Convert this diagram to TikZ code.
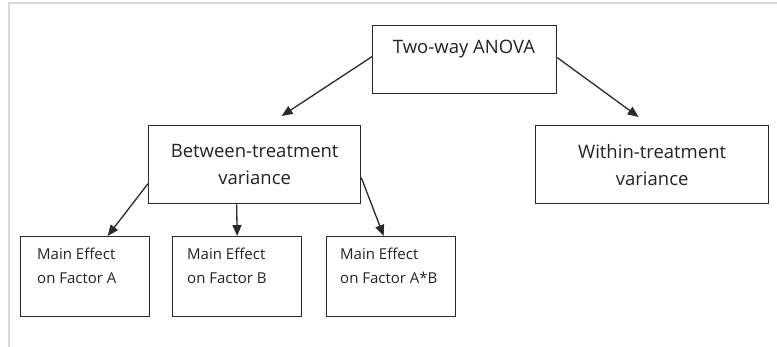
\documentclass[tikz,border=0pt]{standalone}
\usepackage{fontspec}
\setmainfont{Open Sans}
\usetikzlibrary{arrows.meta}
\definecolor{frame}{HTML}{D9D9D9}
\definecolor{ink}{HTML}{222222}
\definecolor{edge}{HTML}{2A2A2A}
\tikzset{
  box/.style={draw=edge, line width=1.3pt, rectangle, inner sep=0pt, anchor=north west},
  bigtext/.style={text=ink, font=\fontsize{18.5}{27}\selectfont, align=center},
  smalltext/.style={text=ink, font=\fontsize{15}{24}\selectfont, align=left, inner sep=0pt, anchor=north west},
  conn/.style={draw=edge, line width=1.3pt, -{Triangle[length=11pt,width=9pt]}}
}
\begin{document}
\begin{tikzpicture}[x=1pt,y=-1pt]
\useasboundingbox (0,0) rectangle (777,347);
\draw[frame, line width=1.2pt] (9,347) -- (9,3) -- (777,3);
% boxes
\node[box, minimum width=184pt, minimum height=68pt] (two) at (372,25) {};
\node[text=ink, font=\fontsize{18.5}{27}\selectfont, anchor=base] (twotext) at (464,54) {Two-way ANOVA};
\node[box, bigtext, minimum width=212pt, minimum height=78pt] (between) at (148,125) {Between-treatment\\variance};
\node[box, bigtext, minimum width=233pt, minimum height=78pt] (within) at (535,125) {Within-treatment\\variance};
\node[box, minimum width=129pt, minimum height=80pt] (fa) at (20,236) {};
\node[box, minimum width=129pt, minimum height=80pt] (fb) at (172,236) {};
\node[box, minimum width=129pt, minimum height=80pt] (fab) at (326,236) {};
\node[smalltext] (fatext) at (37,248) {Main Effect\\on Factor A};
\node[smalltext] (fbtext) at (187,248) {Main Effect\\on Factor B};
\node[smalltext] (fabtext) at (340,248) {Main Effect\\on Factor A*B};
% arrow tips
\coordinate (tipb) at ([xshift=27pt,yshift=9pt]between.north);
\coordinate (tipw) at ([xshift=-13.5pt,yshift=8pt]within.north);
% connectors
\draw[conn] ([yshift=3pt]two.west) -- (tipb);
\draw[conn] ([yshift=2pt]two.east) -- (tipw);
\draw[conn] ([yshift=-19pt]between.west) -- ([xshift=22.5pt]fa.north);
\draw[conn] ([xshift=-18pt]between.south) -- (fb.north);
\draw[conn] ([yshift=-13pt]between.east) -- ([xshift=-7.5pt]fab.north);
\end{tikzpicture}
\end{document}
